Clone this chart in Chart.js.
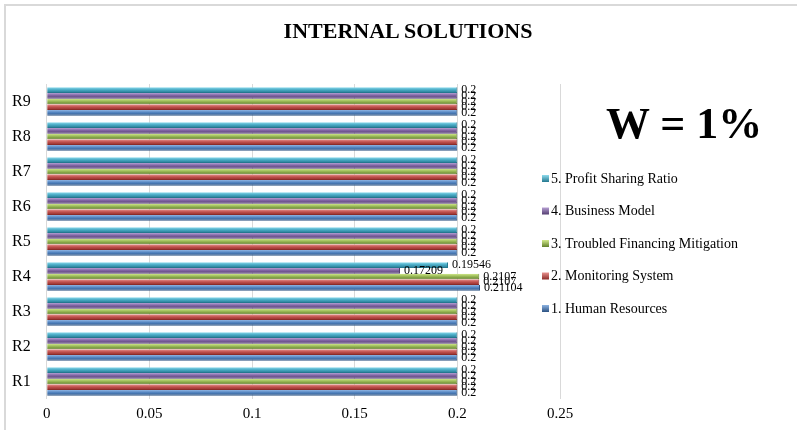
<!DOCTYPE html>
<html>
<head>
<meta charset="utf-8">
<script src="https://cdn.jsdelivr.net/npm/chart.js@4.4.1/dist/chart.umd.min.js"></script>
<style>
  html, body { margin: 0; padding: 0; background: #fff; }
  #wrap { position: relative; width: 797px; height: 430px; overflow: hidden; }
  #frame { position: absolute; left: 4px; top: 4px; width: 820px; height: 460px;
           border: 2px solid #d9d9d9; box-sizing: border-box; }
  #grafico { position: absolute; left: 0; top: 0; }
  #titulo { position: absolute; left: 0; width: 816px; top: 18px; text-align: center;
            font: bold 22px "Liberation Serif", serif; color: #000; }
  #peso { position: absolute; left: 606px; top: 98px; font: bold 44px "Liberation Serif", serif; color: #000; }
</style>
</head>
<body>
<div id="wrap">
  <div id="frame"></div>
  <canvas id="grafico" width="797" height="430"></canvas>
  <div id="titulo">INTERNAL SOLUTIONS</div>
  <div id="peso">W = 1%</div>
</div>
<script>
const categorias = ['R1', 'R2', 'R3', 'R4', 'R5', 'R6', 'R7', 'R8', 'R9']

const humanResources   = [0.2, 0.2, 0.2, 0.21104, 0.2, 0.2, 0.2, 0.2, 0.2]
const monitoringSystem = [0.2, 0.2, 0.2, 0.2107, 0.2, 0.2, 0.2, 0.2, 0.2]
const troubledFinance  = [0.2, 0.2, 0.2, 0.2107, 0.2, 0.2, 0.2, 0.2, 0.2]
const businessModel    = [0.2, 0.2, 0.2, 0.17209, 0.2, 0.2, 0.2, 0.2, 0.2]
const profitSharing    = [0.2, 0.2, 0.2, 0.19546, 0.2, 0.2, 0.2, 0.2, 0.2]

const xTicks = [0, 0.05, 0.1, 0.15, 0.2, 0.25]

const serif = '"Liberation Serif", "Times New Roman", serif'

// cores no estilo Office 2007: base, claro, escuro
const azul     = ['#4F81BD', '#8db3e2', '#2c5282']
const vermelho = ['#C0504D', '#e8928f', '#8c2b28']
const verde    = ['#9BBB59', '#d3ea8c', '#62802a']
const roxo     = ['#8064A2', '#b7a0d4', '#533d70']
const ciano    = ['#4BACC6', '#8fdcee', '#24788f']

// gradiente vertical em cada barra (efeito 3D)
function gradiente(cor) {
  return function (c) {
    const el = c.chart.getDatasetMeta(c.datasetIndex).data[c.dataIndex]
    if (!el || el.y === undefined || !el.height) return cor[0]
    const top = el.y - el.height / 2
    const g = c.chart.ctx.createLinearGradient(0, top, 0, top + el.height)
    g.addColorStop(0, cor[1])
    g.addColorStop(0.45, cor[0])
    g.addColorStop(1, cor[2])
    return g
  }
}

function serie(label, data, cor) {
  return {
    label,
    data,
    cor,
    backgroundColor: gradiente(cor),
    borderColor: cor[2],
    borderWidth: { top: 0, bottom: 1, left: 0, right: 1 },
    categoryPercentage: 0.82,
    barPercentage: 1.0
  }
}

// rótulos de valor na ponta de cada barra
const rotulos = {
  id: 'rotulos',
  afterDatasetsDraw(chart) {
    const ctx = chart.ctx
    ctx.save()
    ctx.font = '12px ' + serif
    ctx.fillStyle = '#000'
    ctx.textBaseline = 'middle'
    chart.data.datasets.forEach((ds, d) => {
      chart.getDatasetMeta(d).data.forEach((el, k) => {
        ctx.fillText(String(ds.data[k]), el.x + 4, el.y)
      })
    })
    ctx.restore()
  }
}

// legenda sobreposta à direita do gráfico (série 5 em cima)
const legenda = {
  id: 'legenda',
  afterDraw(chart) {
    const ctx = chart.ctx
    ctx.save()
    ctx.font = '14px ' + serif
    ctx.textBaseline = 'middle'
    chart.data.datasets.forEach((ds, j) => {
      const y = 178 + j * 32.5
      const g = ctx.createLinearGradient(0, y - 3, 0, y + 4)
      g.addColorStop(0, ds.cor[1])
      g.addColorStop(1, ds.cor[2])
      ctx.fillStyle = g
      ctx.fillRect(542, y - 3, 7, 7)
      ctx.fillStyle = '#000'
      ctx.fillText(ds.label, 551, y + 1)
    })
    ctx.restore()
  }
}

// ordem das séries de cima para baixo dentro de cada grupo
const data = {
  labels: categorias,
  datasets: [
    serie('5. Profit Sharing Ratio', profitSharing, ciano),
    serie('4. Business Model', businessModel, roxo),
    serie('3. Troubled Financing Mitigation', troubledFinance, verde),
    serie('2. Monitoring System', monitoringSystem, vermelho),
    serie('1. Human Resources', humanResources, azul)
  ]
}

const config = {
  type: 'bar',
  data,
  options: {
    indexAxis: 'y',
    responsive: false,
    animation: false,
    layout: { padding: { left: 4, right: 237, top: 84, bottom: 1 } },
    plugins: {
      legend: { display: false },
      tooltip: { enabled: false }
    },
    scales: {
      x: {
        min: 0,
        max: 0.25,
        afterBuildTicks(axis) { axis.ticks = xTicks.map(v => ({ value: v })) },
        grid: { color: '#d9d9d9', drawTicks: false },
        border: { display: false },
        ticks: {
          color: '#000',
          padding: 6,
          font: { family: serif, size: 15 },
          callback: v => String(v)
        }
      },
      y: {
        reverse: true,
        grid: { display: false },
        border: { display: false },
        ticks: { color: '#000', padding: 8, font: { family: serif, size: 16 } }
      }
    }
  },
  plugins: [rotulos, legenda]
}

const grafico = new Chart(document.getElementById('grafico'), config)
grafico.update('none')
</script>
</body>
</html>
